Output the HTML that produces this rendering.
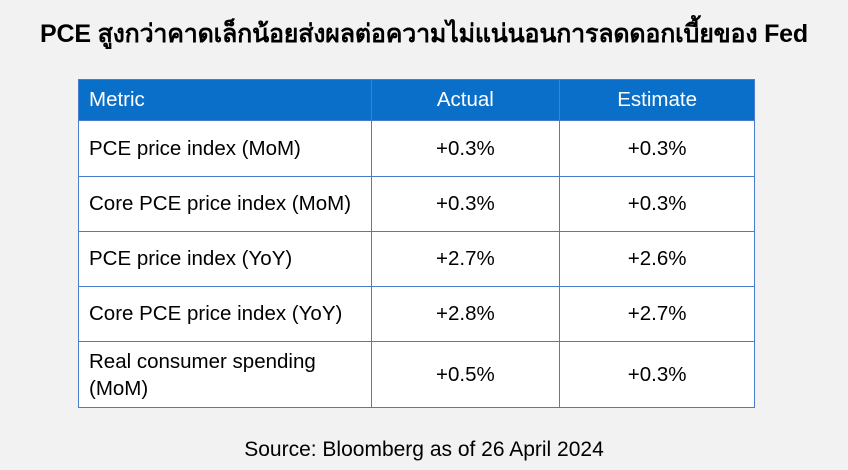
<!DOCTYPE html>
<html><head><meta charset="utf-8"><style>
body{margin:0;width:848px;height:470px;background:#f2f2f2;font-family:"Liberation Sans","Noto Sans CJK SC",sans-serif;position:relative;overflow:hidden}
h1{position:absolute;left:0;top:14px;width:848px;margin:0;text-align:center;font-size:25px;font-weight:bold;color:#000;white-space:nowrap;letter-spacing:-0.2px;font-family:"Liberation Sans","Noto Sans CJK SC","WenQuanYi Zen Hei",sans-serif}
table{position:absolute;left:78px;top:79px;width:677px;border-collapse:collapse;background:#fff;font-size:20.5px;color:#000}
td,th{border:1.5px solid #4a7cc9;padding:0 10px}
th{background:#0a6fc8;color:#fff;font-weight:normal;height:40px;text-align:center}
th:first-child,td:first-child{text-align:left}
td{text-align:center}
.src{position:absolute;left:0;top:438px;width:848px;text-align:center;font-size:21px;color:#000}
</style></head><body>
<h1>PCE สูงกว่าคาดเล็กน้อยส่งผลต่อความไม่แน่นอนการลดดอกเบี้ยของ Fed</h1>
<table>
<colgroup><col style="width:293px"><col style="width:189px"><col style="width:195px"></colgroup>
<tr><th>Metric</th><th>Actual</th><th>Estimate</th></tr>
<tr style="height:56px"><td>PCE price index (MoM)</td><td>+0.3%</td><td>+0.3%</td></tr>
<tr style="height:55px"><td>Core PCE price index (MoM)</td><td>+0.3%</td><td>+0.3%</td></tr>
<tr style="height:55px"><td>PCE price index (YoY)</td><td>+2.7%</td><td>+2.6%</td></tr>
<tr style="height:55px"><td>Core PCE price index (YoY)</td><td>+2.8%</td><td>+2.7%</td></tr>
<tr style="height:66px"><td style="line-height:27px">Real consumer spending<br>(MoM)</td><td>+0.5%</td><td>+0.3%</td></tr>
</table>
<div class="src">Source: Bloomberg as of 26 April 2024</div>
</body></html>
